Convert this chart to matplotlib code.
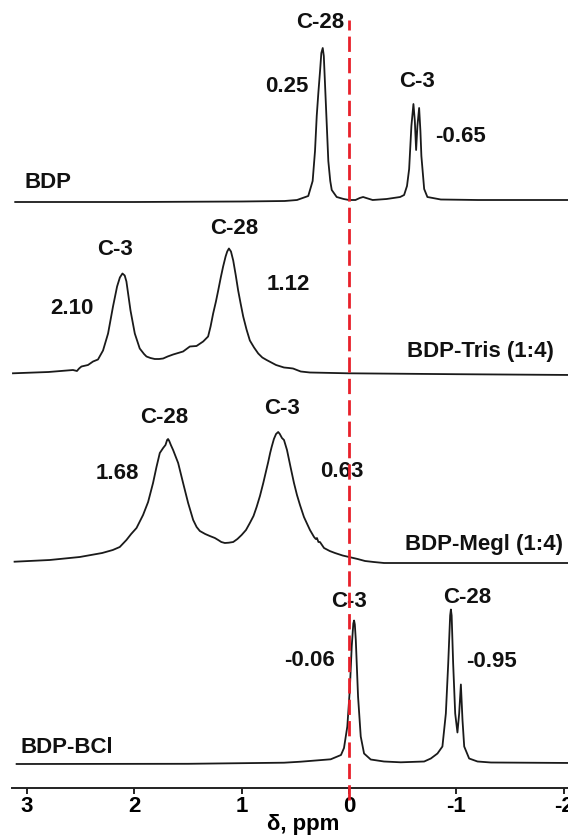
import matplotlib
matplotlib.use("Agg")
import matplotlib.pyplot as plt

plt.rcParams['font.family'] = ['Liberation Sans', 'DejaVu Sans']
plt.rcParams['font.weight'] = 'bold'

# ---------------- data ----------------
# chemical shift (ppm) and intensity (a.u.) traced for each spectrum
bdp_ppm = [3.11, 2.0, 1.0, 0.60, 0.485, 0.38, 0.339, 0.317, 0.301, 0.286, 0.270,
           0.258, 0.245, 0.235, 0.225, 0.205, 0.193, 0.175, 0.161, 0.115, 0.05,
           0.0, -0.06, -0.10, -0.131, -0.16, -0.22, -0.35, -0.476, -0.513, -0.54,
           -0.56, -0.581, -0.600, -0.613, -0.625, -0.637, -0.653, -0.665, -0.674,
           -0.700, -0.730, -0.855, -1.2, -2.1]
bdp_int = [-1, -1, -0.5, 0, 1, 5, 20, 50, 85, 108, 130,
           148, 153, 145, 120, 70, 40, 20, 11, 4, 2,
           1, 1, 3, 4, 3, 1, 2, 4, 6, 15,
           32, 75, 97, 80, 51, 75, 93, 70, 45,
           12, 4, 1.5, 1, 1]

tris_ppm = [3.131, 2.80, 2.572, 2.535, 2.515, 2.493, 2.432, 2.385, 2.339, 2.292,
            2.245, 2.199, 2.161, 2.135, 2.111, 2.090, 2.074, 2.036, 1.996, 1.950,
            1.910, 1.887, 1.850, 1.810, 1.770, 1.732, 1.690, 1.639, 1.546, 1.483,
            1.421, 1.359, 1.313, 1.290, 1.266, 1.240, 1.219, 1.195, 1.173, 1.150,
            1.135, 1.119, 1.100, 1.079, 1.055, 1.033, 1.010, 0.986, 0.955, 0.924,
            0.885, 0.846, 0.808, 0.768, 0.68, 0.606, 0.560, 0.522, 0.45, 0.364,
            0.009, -1.0, -2.1]
tris_int = [0.2, 1.5, 3.5, 2.5, 5, 7, 8.5, 12, 14, 23,
            40, 67, 87, 96, 100, 98, 92, 63, 40, 25,
            19.5, 17, 15.5, 14.5, 14.5, 15, 17, 19, 22, 27,
            27.5, 32, 37, 47, 60, 72, 83, 96, 107, 117,
            122, 125, 122, 113, 98, 83, 70, 57, 44, 33,
            26, 20, 16, 13.5, 8.5, 6, 5.5, 5, 2, 1,
            0.2, -0.7, -1.5]

megl_ppm = [3.116, 2.789, 2.509, 2.30, 2.201, 2.136, 2.074, 2.030, 1.980, 1.919,
            1.872, 1.826, 1.794, 1.763, 1.732, 1.710, 1.695, 1.686, 1.675, 1.660,
            1.639, 1.592, 1.546, 1.499, 1.452, 1.420, 1.390, 1.340, 1.297, 1.250,
            1.219, 1.190, 1.157, 1.120, 1.079, 1.040, 1.001, 0.960, 0.924, 0.890,
            0.861, 0.830, 0.799, 0.775, 0.753, 0.735, 0.721, 0.700, 0.680, 0.660,
            0.645, 0.625, 0.606, 0.578, 0.545, 0.513, 0.485, 0.457, 0.420, 0.390,
            0.364, 0.326, 0.310, 0.299, 0.285, 0.271, 0.233, 0.180, 0.131, 0.060,
            0.0, -0.080, -0.149, -0.230, -0.326, -1.0, -2.1]
megl_int = [1.3, 3, 6, 10, 13, 16, 23, 29, 35, 48,
            61, 80, 96, 110, 115, 118, 123, 124, 122, 118,
            113, 100, 80, 60, 43, 36, 32, 29, 27, 25,
            23, 21, 20, 20.3, 21, 24, 28, 33, 40, 47,
            56, 67, 80, 91, 101, 110, 116, 124, 129, 131,
            129, 125, 123, 113, 96, 80, 68, 58, 46, 39,
            33, 26, 24, 25, 21, 21, 15, 12, 10, 7.5,
            6, 4, 2, 1, 0, 0, 0]

bcl_ppm = [3.097, 1.5, 0.606, 0.451, 0.171, 0.075, 0.047, 0.016, -0.007, -0.025,
           -0.040, -0.047, -0.054, -0.063, -0.084, -0.109, -0.140, -0.202, -0.326,
           -0.482, -0.700, -0.762, -0.824, -0.870, -0.902, -0.924, -0.942, -0.949,
           -0.956, -0.970, -0.989, -1.010, -1.026, -1.042, -1.057, -1.073, -1.119,
           -1.197, -1.322, -2.1]
bcl_int = [-0.5, -0.3, 0.8, 1.8, 4.2, 8.5, 15.5, 37, 73.5, 117,
           140, 143, 139, 123.5, 67, 27, 10, 4, 2,
           1.2, 2, 5, 10, 17, 50, 100, 148, 154,
           148, 100, 50, 31, 50, 79, 43.5, 17, 5,
           2, 1, 0.5]

spectra_ppm = [bdp_ppm, tris_ppm, megl_ppm, bcl_ppm]
spectra_int = [bdp_int, tris_int, megl_int, bcl_int]
offsets = [587, 414.5, 225, 24.5]          # vertical stacking offsets (a.u.)

sample_names = ["BDP", "BDP-Tris (1:4)", "BDP-Megl (1:4)", "BDP-BCl"]
name_pos = [(3.022, 600, 'left'), (-1.222, 431, 'center'),
            (-1.259, 238, 'center'), (3.06, 35, 'left')]

# peak annotations: (text, ppm, y)
peak_labels = [
    ("C-28", 0.27, 760), ("0.25", 0.578, 696),
    ("C-3", -0.634, 701), ("-0.65", -1.035, 646),
    ("C-3", 2.183, 533), ("2.10", 2.584, 474),
    ("C-28", 1.073, 554), ("1.12", 0.569, 498),
    ("C-28", 1.726, 365), ("1.68", 2.155, 309),
    ("C-3", 0.625, 374), ("0.63", 0.065, 311),
    ("C-3", 0.0, 181), ("-0.06", 0.364, 122),
    ("C-28", -1.10, 185), ("-0.95", -1.329, 121),
]

tick_vals = [3, 2, 1, 0, -1, -2]
tick_text = ["3", "2", "1", "0", "-1", "-2"]
ref_ppm = 0.0

# ---------------- figure ----------------
W, H = 568, 836
fig = plt.figure(figsize=(W / 100, H / 100), dpi=100)
ax = fig.add_axes([12 / W, 48 / H, 1 - 12 / W, 788 / H])
ax.set_xlim(3.14, -2.04)
ax.set_ylim(0, 788)

fs = 16
line_col = '#1a1a1a'
for ppm, inten, off in zip(spectra_ppm, spectra_int, offsets):
    ax.plot(ppm, [off + v for v in inten], color=line_col, lw=1.3,
            solid_joinstyle='round')

for name, (x, y, ha) in zip(sample_names, name_pos):
    ax.text(x, y, name, ha=ha, va='baseline', fontsize=fs, fontweight='bold',
            color='#111111')

for txt, x, y in peak_labels:
    ax.text(x, y, txt, ha='center', va='baseline', fontsize=fs,
            fontweight='bold', color='#111111')

ax.axvline(ref_ppm, ymin=-12 / 788, ymax=768 / 788, color='#e8202a', lw=2.0,
           linestyle=(0, (5.5, 2.2)), clip_on=False, zorder=5)

for s in ['top', 'left', 'right']:
    ax.spines[s].set_visible(False)
ax.spines['bottom'].set_linewidth(1.4)
ax.spines['bottom'].set_color('#222222')
ax.set_yticks([])
ax.set_xticks(tick_vals)
ax.set_xticklabels(tick_text, fontsize=fs, fontweight='bold')
ax.tick_params(axis='x', direction='out', length=4, width=1.4, pad=2.0,
               color='#222222')

ax.set_xlabel("δ, ppm", fontsize=fs, fontweight='bold')
ax.xaxis.label.set_va('baseline')
ax.xaxis.set_label_coords((303 - 12) / (W - 12), -42 / 788)

fig.savefig("out.png", dpi=100)
